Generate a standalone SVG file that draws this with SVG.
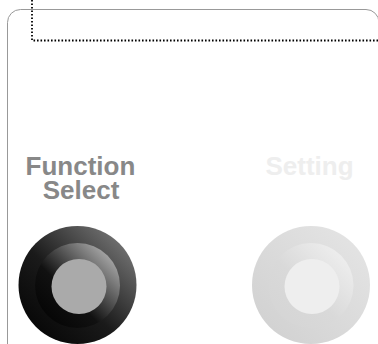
<svg xmlns="http://www.w3.org/2000/svg" width="378" height="344" viewBox="0 0 378 344">
<style>
.lbl{font-family:"Liberation Sans",Arial,sans-serif;font-weight:bold;font-size:26px;text-anchor:middle}
.dot{fill:none;stroke:#000;stroke-width:1.8;stroke-dasharray:1.6 1.9}
</style>
<defs>
<linearGradient id="dOuter" x1="0" y1="1" x2="1" y2="0"><stop offset="0" stop-color="#000"/><stop offset="0.45" stop-color="#1a1a1a"/><stop offset="1" stop-color="#8a8a8a"/></linearGradient>
<linearGradient id="dMid" x1="0" y1="1" x2="1" y2="0"><stop offset="0" stop-color="#000"/><stop offset="0.4" stop-color="#111"/><stop offset="1" stop-color="#d0d0d0"/></linearGradient>
<linearGradient id="lOuter" x1="0" y1="1" x2="1" y2="0"><stop offset="0" stop-color="#cfcfcf"/><stop offset="1" stop-color="#e6e6e6"/></linearGradient>
<linearGradient id="lMid" x1="0" y1="1" x2="1" y2="0"><stop offset="0" stop-color="#d4d4d4"/><stop offset="0.45" stop-color="#d9d9d9"/><stop offset="1" stop-color="#f4f4f4"/></linearGradient>
</defs>
<rect x="0" y="0" width="378" height="344" fill="#fff"/>
<g id="panel">
<rect x="7.5" y="9.5" width="371.5" height="360" rx="13" ry="13" fill="none" stroke="#999" stroke-width="1"/>
</g>
<g id="connectors">
<path class="dot" d="M32 0 V40.5 H378"/>
</g>
<g id="function-select">
<text class="lbl" x="80.5" y="175" fill="#888">Function</text>
<text class="lbl" x="81" y="199" fill="#888">Select</text>
<circle cx="77.5" cy="285" r="59" fill="url(#dOuter)"/>
<circle cx="77.5" cy="285.5" r="42.5" fill="url(#dMid)"/>
<circle cx="79" cy="286.5" r="27.5" fill="#aaa"/>
</g>
<g id="setting">
<text class="lbl" x="309.5" y="175" fill="#eee">Setting</text>
<circle cx="311" cy="285" r="59" fill="url(#lOuter)"/>
<circle cx="311" cy="285.5" r="42.5" fill="url(#lMid)"/>
<circle cx="312" cy="286.5" r="27.5" fill="#eee"/>
</g>
</svg>
